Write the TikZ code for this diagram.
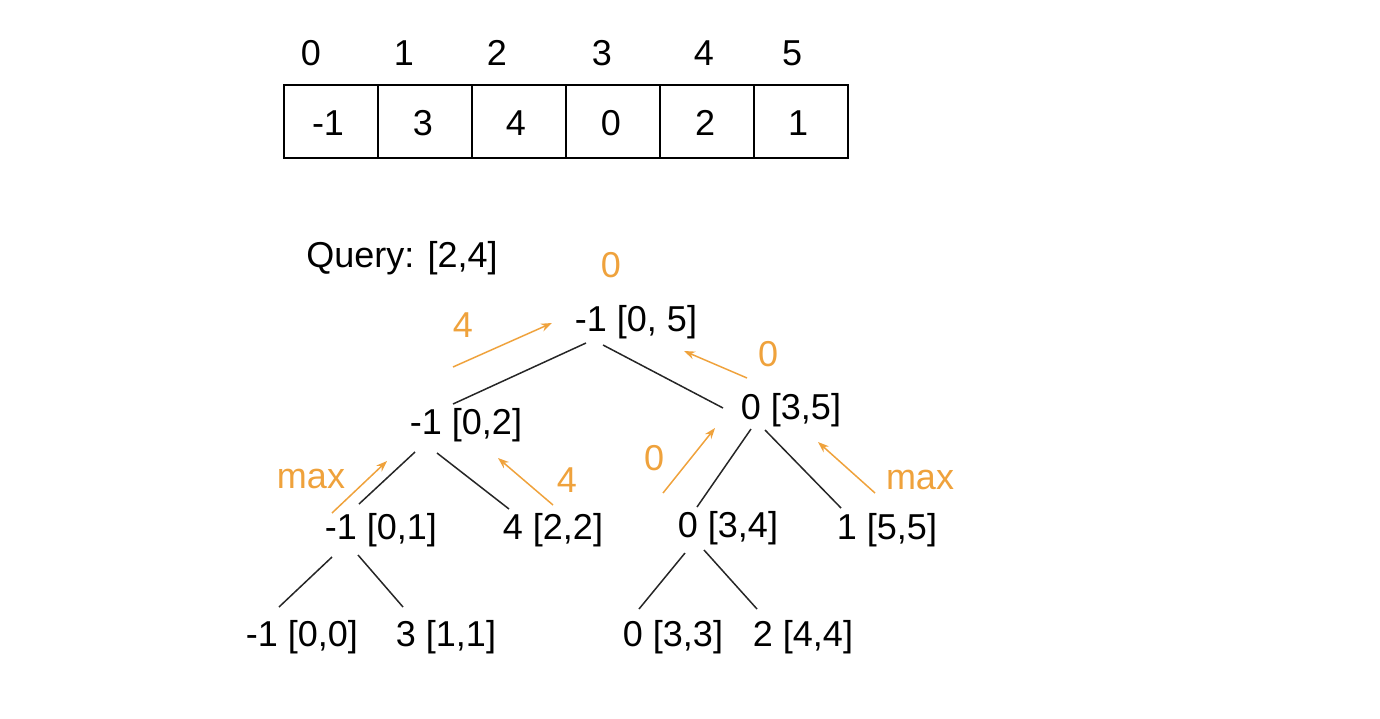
\documentclass[tikz,border=0pt]{standalone}
\usepackage{fontspec}
\setmainfont{Liberation Sans}
\usetikzlibrary{arrows.meta}
\definecolor{org}{HTML}{EFA23C}
\tikzset{
  lbl/.style={inner sep=0pt, font=\fontsize{36}{40}\selectfont},
  olbl/.style={lbl, text=org},
  cell/.style={draw, line width=2pt, minimum width=94pt, minimum height=73pt, inner sep=0pt},
  edge/.style={line width=1.5pt, black!85},
  oarr/.style={line width=1.5pt, org, -{Stealth[length=11pt,width=8pt]}}
}
\begin{document}
\begin{tikzpicture}[x=1pt,y=-1pt]
\useasboundingbox (0,0) rectangle (1380,718);
% array
\foreach \i/\v/\vx/\ixx in {0/-1/328/311,1/3/423/404,2/4/516/497,3/0/611/602,4/2/705/704,5/1/798/792}{
  \node[cell] (c\i) at (330.5+94*\i,121.5) {};
  \node[lbl, anchor=base] (v\i) at (\vx,135) {\v};
  \node[lbl, anchor=base] (ix\i) at (\ixx,65) {\i};
}
\node[lbl] (query) at (402,258) {Query: [2,4]};
% tree
\node[lbl] (r) at (636,322) {-1 [0, 5]};
\node[lbl] (a) at (466,425) {-1 [0,2]};
\node[lbl] (b) at (791,410) {0 [3,5]};
\node[lbl] (aa) at (381,530) {-1 [0,1]};
\node[lbl] (ab) at (553,530) {4 [2,2]};
\node[lbl] (ba) at (728,528) {0 [3,4]};
\node[lbl] (bb) at (887,530) {1 [5,5]};
\node[lbl] (aaa) at (302,637) {-1 [0,0]};
\node[lbl] (aab) at (446,637) {3 [1,1]};
\node[lbl] (baa) at (673,637) {0 [3,3]};
\node[lbl] (bab) at (803,637) {2 [4,4]};
\draw[edge] ([shift={(-50,21)}]r.center) -- ([shift={(-13,-21)}]a.center);
\draw[edge] ([shift={(-33,23)}]r.center) -- ([shift={(-68,-2)}]b.center);
\draw[edge] ([shift={(-51,27)}]a.center) -- ([shift={(-22,-26)}]aa.center);
\draw[edge] ([shift={(-29,28)}]a.center) -- ([shift={(-44,-21)}]ab.center);
\draw[edge] ([shift={(-40,19)}]b.center) -- ([shift={(-31,-21)}]ba.center);
\draw[edge] ([shift={(-26,20)}]b.center) -- ([shift={(-46,-22)}]bb.center);
\draw[edge] ([shift={(-49,27)}]aa.center) -- ([shift={(-23,-30)}]aaa.center);
\draw[edge] ([shift={(-23,25)}]aa.center) -- ([shift={(-43,-30)}]aab.center);
\draw[edge] ([shift={(-43,25)}]ba.center) -- ([shift={(-34,-28)}]baa.center);
\draw[edge] ([shift={(-24,22)}]ba.center) -- ([shift={(-46,-28)}]bab.center);
% orange labels
\node[olbl] (o0) at (611,265) {0};
\node[olbl] (o4a) at (463,325) {4};
\node[olbl] (o0b) at (768,354) {0};
\node[olbl] (omaxa) at (311,479) {max};
\node[olbl] (o4b) at (567,480) {4};
\node[olbl] (o0c) at (654,458) {0};
\node[olbl] (omaxb) at (920,480) {max};
% orange arrows
\coordinate (t1) at (453,367); \coordinate (h1) at (552,323);
\coordinate (t2) at (747,378); \coordinate (h2) at (684,351);
\coordinate (t3) at (332,513); \coordinate (h3) at (387,461);
\coordinate (t4) at (553,505); \coordinate (h4) at (498,458);
\coordinate (t5) at (663,493); \coordinate (h5) at (715,428);
\coordinate (t6) at (875,493); \coordinate (h6) at (818,442);
\foreach \k in {1,...,6}{\draw[oarr] (t\k) -- (h\k);}
\end{tikzpicture}
\end{document}
